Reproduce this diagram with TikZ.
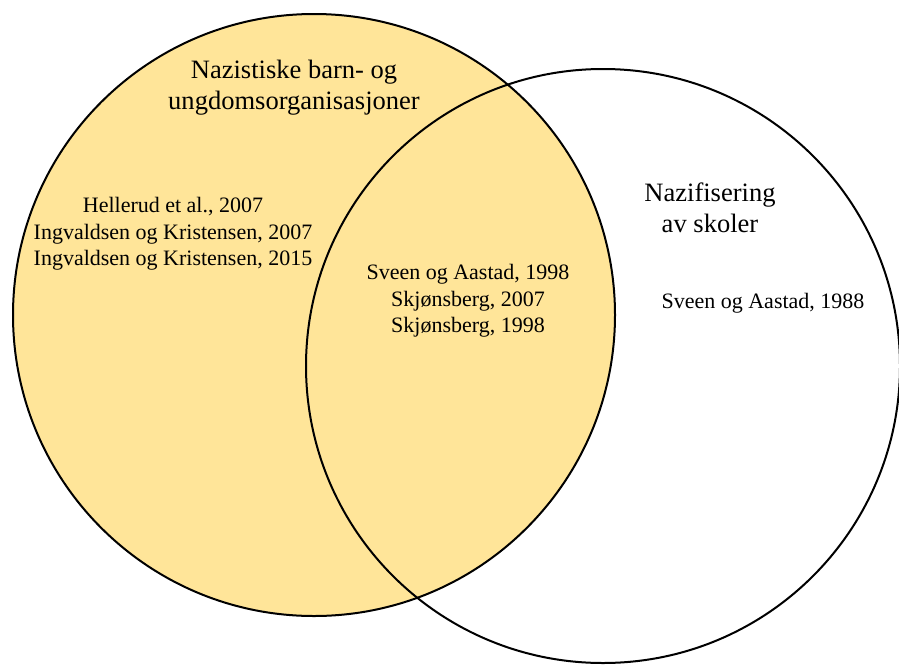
\documentclass[tikz,border=0pt]{standalone}
\usepackage{fontspec}
\setmainfont{Liberation Serif}
\usepackage{tikz}
\definecolor{vennyellow}{HTML}{FFE599}
\newcommand{\bigtxt}{\fontsize{19.9}{23.3}\selectfont}
\newcommand{\smalltxt}{\fontsize{16.5}{20}\selectfont}

\begin{document}
\begin{tikzpicture}[x=0.75pt,y=-0.75pt,
  settext/.style={align=center,inner sep=0pt,font=\bigtxt},
  reftext/.style={align=center,inner sep=0pt,font=\smalltxt}]
\useasboundingbox (0,0) rectangle (899,664);
% the two sets
\fill[vennyellow] (314,315) circle (301);
\draw[line width=1.5pt] (314,315) circle (301);
\draw[line width=1.5pt] (603,366) circle (297);
%
\node[settext] (barn) at (294,88) {Nazistiske barn- og\\ungdomsorganisasjoner};
\node[settext] (skole) at (710,208) {Nazifisering\\av skoler};
%
\node[reftext] (venstre) at (173,234) {Hellerud et al., 2007\\Ingvaldsen og Kristensen, 2007\\Ingvaldsen og Kristensen, 2015};
\node[reftext] (midt) at (468,301) {Sveen og Aastad, 1998\\Skjønsberg, 2007\\Skjønsberg, 1998};
\node[reftext] (hoyre) at (763,303) {Sveen og Aastad, 1988};
\end{tikzpicture}
\end{document}
